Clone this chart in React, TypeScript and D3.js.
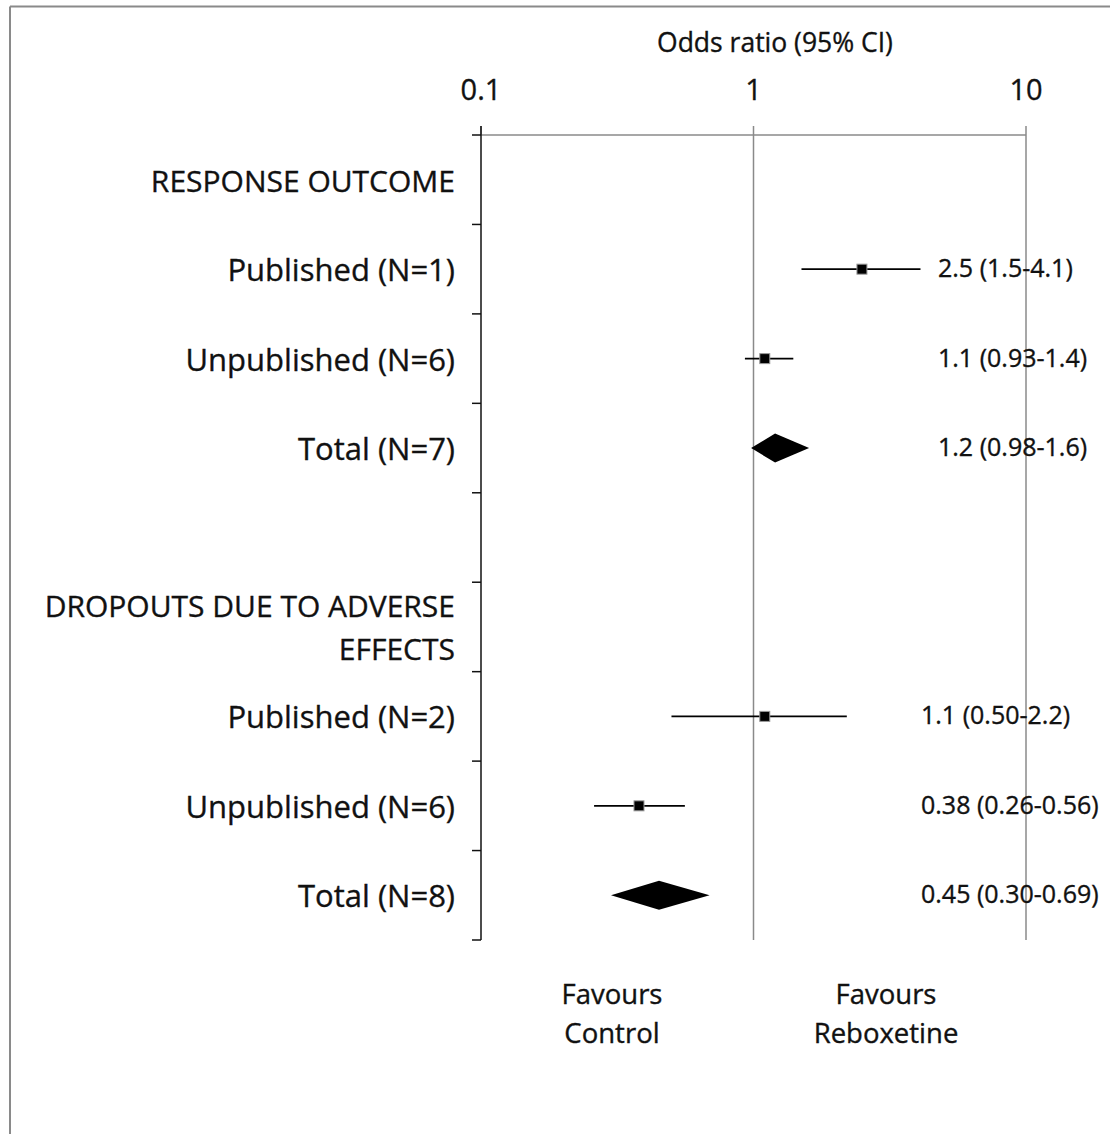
import React from "react";
import * as d3 from "d3";

const rowLabels: string[][] = [
  ["RESPONSE OUTCOME"],
  ["Published (N=1)"],
  ["Unpublished (N=6)"],
  ["Total (N=7)"],
  [""],
  ["DROPOUTS DUE TO ADVERSE", "EFFECTS"],
  ["Published (N=2)"],
  ["Unpublished (N=6)"],
  ["Total (N=8)"],
];
const rowIds = rowLabels.map((_, i) => `r${i}`);

const studyRows = [1, 2, 3, 6, 7, 8];
const studyKind = ["square", "square", "diamond", "square", "square", "diamond"];
const orValues = [2.5, 1.1, 1.2, 1.1, 0.38, 0.45];
const ciLow = [1.5, 0.93, 0.98, 0.5, 0.26, 0.3];
const ciHigh = [4.1, 1.4, 1.6, 2.2, 0.56, 0.69];
const valueText = [
  "2.5 (1.5-4.1)",
  "1.1 (0.93-1.4)",
  "1.2 (0.98-1.6)",
  "1.1 (0.50-2.2)",
  "0.38 (0.26-0.56)",
  "0.45 (0.30-0.69)",
];
const tickValues = [0.1, 1, 10];
const tickLabels = ["0.1", "1", "10"];
const axisTitle = "Odds ratio (95% CI)";
const favourLeft = ["Favours", "Control"];
const favourRight = ["Favours", "Reboxetine"];

export default function App() {
  const W = 1110;
  const H = 1134;
  const font = "'Open Sans', sans-serif";
  const x = d3.scaleLog().domain([0.1, 10]).range([481, 1026]);
  const y = d3.scaleBand<string>().domain(rowIds).range([135, 940]);
  const bw = y.bandwidth();
  const yc = (i: number) => (y(rowIds[i]) as number) + bw / 2;
  const bandEdges = rowIds.map((id) => y(id) as number).concat([940]);
  const grey = "#8a8a8a";
  const ink = "#111";
  const textStyle = { fill: ink, stroke: ink, strokeWidth: 0.35 };

  return (
    <svg
      width={W}
      height={H}
      style={{ position: "absolute", left: 0, top: 0, background: "#fff" }}
      fontFamily={font}
    >
      <rect x={0} y={0} width={W} height={H} fill="#fff" />
      {/* frame */}
      <line x1={10} y1={6.5} x2={W} y2={6.5} stroke={grey} strokeWidth={2} />
      <line x1={10} y1={6.5} x2={10} y2={H} stroke={grey} strokeWidth={2} />

      {/* title */}
      <text x={775} y={52} textAnchor="middle" fontSize={26.5} style={textStyle}>
        {axisTitle}
      </text>
      {tickValues.map((t, i) => (
        <text key={t} x={x(t)} y={100} textAnchor="middle" fontSize={29} style={textStyle}>
          {tickLabels[i]}
        </text>
      ))}

      {/* top axis line */}
      <line x1={x(0.1)} y1={135} x2={x(10)} y2={135} stroke={grey} strokeWidth={1.5} />
      {tickValues.map((t) => (
        <line key={`tk${t}`} x1={x(t)} y1={126} x2={x(t)} y2={135} stroke={grey} strokeWidth={1.5} />
      ))}
      {/* vertical reference lines */}
      {tickValues.slice(1).map((t) => (
        <line key={`g${t}`} x1={x(t)} y1={135} x2={x(t)} y2={940} stroke={grey} strokeWidth={1.5} />
      ))}
      {/* left axis */}
      <line x1={x(0.1)} y1={126} x2={x(0.1)} y2={940} stroke={ink} strokeWidth={1.5} />
      {bandEdges.map((e, i) => (
        <line key={`e${i}`} x1={x(0.1) - 9} y1={e} x2={x(0.1)} y2={e} stroke={ink} strokeWidth={1.5} />
      ))}

      {/* row labels */}
      {rowLabels.map((lines, i) =>
        lines.map((s, j) => (
          <text
            key={`l${i}-${j}`}
            x={455}
            y={yc(i) + 12 + (j - (lines.length - 1) / 2) * 43}
            textAnchor="end"
            fontSize={i === 0 || i === 5 ? 30 : 31}
            style={textStyle}
          >
            {s}
          </text>
        ))
      )}

      {/* estimates */}
      {studyRows.map((r, k) => {
        const cy = yc(r);
        if (studyKind[k] === "diamond") {
          const h = 14.5;
          const d = `M${x(ciLow[k])},${cy} L${x(orValues[k])},${cy - h} L${x(ciHigh[k])},${cy} L${x(orValues[k])},${cy + h} Z`;
          return <path key={`m${k}`} d={d} fill="#000" />;
        }
        return (
          <g key={`m${k}`}>
            <line x1={x(ciLow[k])} y1={cy} x2={x(ciHigh[k])} y2={cy} stroke="#000" strokeWidth={1.6} />
            <rect x={x(orValues[k]) - 5} y={cy - 5} width={10} height={10} fill="#000" stroke="#999" strokeWidth={1} />
          </g>
        );
      })}

      {/* value labels */}
      {studyRows.map((r, k) => (
        <text
          key={`v${k}`}
          x={k < 3 ? 938 : 921}
          y={yc(r) + 8}
          fontSize={25}
          style={textStyle}
        >
          {valueText[k]}
        </text>
      ))}

      {/* favours */}
      {favourLeft.map((s, i) => (
        <text key={`fl${i}`} x={612} y={1004 + i * 39} textAnchor="middle" fontSize={27.5} style={textStyle}>
          {s}
        </text>
      ))}
      {favourRight.map((s, i) => (
        <text key={`fr${i}`} x={886} y={1004 + i * 39} textAnchor="middle" fontSize={27.5} style={textStyle}>
          {s}
        </text>
      ))}
    </svg>
  );
}
